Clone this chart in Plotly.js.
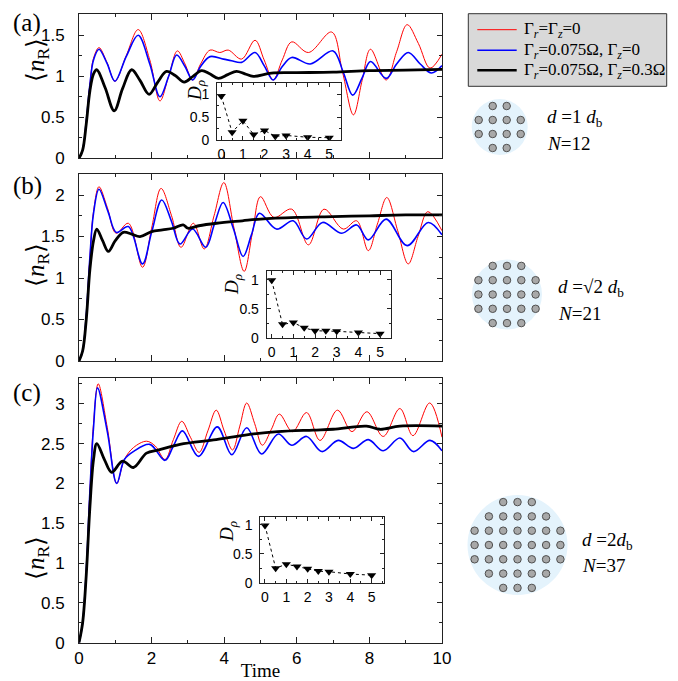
<!DOCTYPE html>
<html><head><meta charset="utf-8">
<script src="https://cdn.plot.ly/plotly-3.0.1.min.js"></script>
<style>html,body{margin:0;padding:0;background:#fff}#plot{width:678px;height:681px}</style>
</head><body><div id="plot"></div>
<script>
// ---------- DATA ----------
const seriesNames = ['Γ<sub><i>r</i></sub>=Γ<sub><i>z</i></sub>=0',
  'Γ<sub><i>r</i></sub>=0.075Ω, Γ<sub><i>z</i></sub>=0',
  'Γ<sub><i>r</i></sub>=0.075Ω, Γ<sub><i>z</i></sub>=0.3Ω'];

// panel (a)
const tA_red = [0,0.1,0.2,0.3,0.4,0.55,0.77,0.99,1.3,1.63,1.95,2.23,2.47,2.71,2.92,3.13,3.35,3.61,3.88,4.11,4.48,4.85,5.1,5.35,5.6,5.86,6.32,6.96,7.26,7.56,7.8,8.03,8.46,8.75,9.04,9.35,9.67,10];
const yA_red = [0,0.1,0.45,0.9,1.22,1.35,1.17,0.94,1.25,1.57,1.2,0.70,1.0,1.31,1.15,0.955,1.15,1.32,1.29,1.32,1.21,1.44,1.2,0.955,1.2,1.42,1.29,1.54,1.05,0.53,0.95,1.33,0.955,1.3,1.63,1.4,1.10,1.27];
const tA_blue = [0,0.1,0.2,0.3,0.4,0.55,0.77,0.99,1.3,1.63,1.95,2.23,2.47,2.69,2.92,3.13,3.35,3.61,3.98,4.2,4.48,4.85,5.1,5.35,5.6,5.86,6.37,7.0,7.28,7.54,7.8,8.03,8.46,8.75,9.07,9.4,9.71,10];
const yA_blue = [0,0.1,0.45,0.9,1.2,1.33,1.16,0.94,1.24,1.50,1.15,0.75,1.0,1.26,1.12,0.955,1.12,1.24,1.21,1.19,1.17,1.29,1.13,0.955,1.12,1.23,1.15,1.31,1.05,0.77,0.98,1.18,0.975,1.15,1.29,1.15,1.04,1.13];
const tA_black = [0,0.1,0.2,0.3,0.4,0.49,0.72,0.97,1.2,1.45,1.68,1.93,2.17,2.41,2.65,2.9,3.14,3.38,3.6,3.84,4.1,4.34,4.57,4.8,5.3,6.0,7.0,8.0,9.0,10];
const yA_black = [0,0.1,0.42,0.82,1.03,1.08,0.86,0.58,0.85,1.08,0.95,0.78,0.93,1.06,1.01,0.93,1.0,1.07,1.03,0.975,1.02,1.06,1.03,1.0,1.04,1.045,1.05,1.07,1.075,1.085];

// panel (b)
const tB_red = [0,0.1,0.2,0.3,0.4,0.55,0.78,1.02,1.36,1.75,2.0,2.26,2.55,2.81,3.15,3.45,3.72,3.99,4.27,4.55,4.78,5.0,5.37,5.86,6.32,6.75,7.28,7.65,7.97,8.22,8.48,8.78,9.07,9.34,9.61,10];
const yB_red = [0,0.12,0.55,1.25,1.8,2.10,1.85,1.54,1.66,1.13,1.6,2.08,1.75,1.37,1.66,1.35,1.75,2.15,1.6,1.08,1.55,1.98,1.73,1.83,1.40,1.83,1.59,1.69,1.33,1.65,1.97,1.57,1.17,1.5,1.80,1.57];
const tB_blue = [0,0.1,0.2,0.3,0.4,0.55,0.8,1.03,1.36,1.75,2.0,2.28,2.55,2.78,3.13,3.49,3.73,3.97,4.25,4.52,4.75,4.97,5.44,5.9,6.27,6.71,7.24,7.65,7.97,8.46,9.04,9.62,10];
const yB_blue = [0,0.12,0.55,1.25,1.78,2.07,1.8,1.55,1.62,1.17,1.55,1.94,1.68,1.41,1.59,1.37,1.65,1.91,1.6,1.26,1.52,1.78,1.59,1.69,1.47,1.67,1.54,1.64,1.46,1.71,1.39,1.67,1.52];
const tB_black = [0,0.1,0.2,0.3,0.4,0.49,0.65,0.81,1.0,1.22,1.45,1.68,2.0,2.3,2.6,2.87,3.0,3.3,3.79,4.5,5.0,6.0,7.0,8.0,9.0,10];
const yB_black = [0,0.12,0.5,1.1,1.45,1.59,1.45,1.32,1.45,1.55,1.53,1.50,1.56,1.58,1.60,1.64,1.60,1.63,1.66,1.69,1.71,1.73,1.74,1.75,1.76,1.76];

// panel (c)
const tC_red = [0,0.1,0.2,0.3,0.4,0.53,0.78,1.04,1.25,1.5,1.86,2.1,2.37,2.6,2.83,3.07,3.31,3.55,3.78,4.0,4.23,4.43,4.62,4.84,5.05,5.3,5.52,5.88,6.27,6.64,7.12,7.52,7.93,8.38,8.84,9.2,9.66,10];
const yC_red = [0,0.25,0.9,1.9,2.75,3.25,2.7,2.0,2.3,2.45,2.53,2.47,2.30,2.55,2.78,2.58,2.39,2.66,2.92,2.66,2.42,2.72,3.01,2.75,2.48,2.68,2.87,2.65,2.89,2.54,2.92,2.65,2.90,2.59,2.94,2.60,3.01,2.58];
const tC_blue = [0,0.1,0.2,0.3,0.4,0.51,0.78,1.04,1.25,1.5,1.95,2.37,2.6,2.85,3.29,3.81,4.21,4.62,5.03,5.49,5.86,6.27,6.69,7.14,7.56,7.97,8.38,8.84,9.21,9.67,10];
const yC_blue = [0,0.25,0.9,1.9,2.7,3.20,2.65,2.0,2.3,2.40,2.49,2.29,2.47,2.66,2.34,2.71,2.36,2.70,2.37,2.62,2.48,2.59,2.40,2.54,2.44,2.55,2.41,2.57,2.40,2.54,2.41];
const tC_black = [0,0.1,0.2,0.3,0.4,0.49,0.7,0.9,1.2,1.5,1.86,2.2,2.78,3.78,4.62,5.47,6.45,7.0,7.92,8.29,8.84,10];
const yC_black = [0,0.25,0.85,1.7,2.3,2.50,2.3,2.14,2.28,2.20,2.38,2.42,2.49,2.55,2.61,2.65,2.67,2.68,2.72,2.68,2.72,2.72];

// insets D_rho
const insetX = [0,0.5,1,1.5,2,2.5,3,4,5];
const D_a = [0.96,0.17,0.42,0.12,0.21,0.08,0.10,0.06,0.05];
const D_b = [0.99,0.23,0.26,0.17,0.12,0.12,0.11,0.09,0.07];
const D_c = [0.99,0.25,0.32,0.28,0.24,0.20,0.19,0.15,0.13];

// lattice rows of the vortex arrangements
const rowsA = [2,4,4,2];
const rowsB = [3,5,5,5,3];
const rowsC = [3,5,7,7,7,5,3];

const panelLabels = ['(a)','(b)','(c)'];
const yTitle = '⟨<i>n</i><sub>R</sub>⟩';
const insetTitle = '<i>D</i><sub><i>ρ</i></sub>';
const xTitle = 'Time';
const diagLabels = [
  ['<i>d</i> =1 <i>d</i><sub>b</sub>','<i>N</i>=12'],
  ['<i>d</i> =√2 <i>d</i><sub>b</sub>','<i>N</i>=21'],
  ['<i>d</i> =2<i>d</i><sub>b</sub>','<i>N</i>=37']];

// ---------- BUILD ----------
const W=678, H=681;
const px=p=>p/W, py=p=>1-p/H;
const SERIF='Liberation Serif, Times New Roman, serif';
const SANS='Liberation Sans, Arial, sans-serif';
const colors=['#ff0000','#0000ff','#000000'];
const widths=[1,1.6,2.8];

const traces=[];
const panels=[
  [[tA_red,yA_red],[tA_blue,yA_blue],[tA_black,yA_black]],
  [[tB_red,yB_red],[tB_blue,yB_blue],[tB_black,yB_black]],
  [[tC_red,yC_red],[tC_blue,yC_blue],[tC_black,yC_black]]];
panels.forEach((p,pi)=>{
  p.forEach((s,si)=>{
    traces.push({x:s[0],y:s[1],type:'scatter',mode:'lines',
      name:seriesNames[si],showlegend:false,
      xaxis:'x'+(pi===0?'':pi+1),yaxis:'y'+(pi===0?'':pi+1),
      line:{color:colors[si],width:widths[si],shape:'spline',smoothing:1},hoverinfo:'skip'});
  });
});
[D_a,D_b,D_c].forEach((d,i)=>{
  traces.push({x:insetX,y:d,type:'scatter',mode:'lines+markers',showlegend:false,
    xaxis:'x'+(i+4),yaxis:'y'+(i+4),
    line:{color:'#000',width:1,dash:'dot'},
    marker:{symbol:'triangle-down',size:8,color:'#000'},hoverinfo:'skip'});
});
function lattice(rows,cx,cy,step){
  const xs=[],ys=[];
  rows.forEach((n,i)=>{
    const yy=cy+(i-(rows.length-1)/2)*step;
    for(let j=0;j<n;j++){xs.push(cx+(j-(n-1)/2)*step);ys.push(yy);}
  });
  return [xs,ys];
}
const diag=[{rows:rowsA,cx:499.7,cy:127,step:14,r:28,tx:545,ty:[118,143]},
            {rows:rowsB,cx:507,cy:294.5,step:14.3,r:35,tx:556,ty:[288,313]},
            {rows:rowsC,cx:517.5,cy:545,step:14.3,r:50,tx:580,ty:[541,565]}];
const shapes=[],annotations=[];
diag.forEach((d,i)=>{
  const L=lattice(d.rows,d.cx,d.cy,d.step);
  traces.push({x:L[0],y:L[1],type:'scatter',mode:'markers',showlegend:false,xaxis:'x7',yaxis:'y7',
    marker:{size:7.5,color:'#a8a8a8',line:{color:'#505050',width:1}},hoverinfo:'skip'});
  shapes.push({type:'circle',xref:'x7',yref:'y7',x0:d.cx-d.r,x1:d.cx+d.r,y0:d.cy-d.r,y1:d.cy+d.r,
    fillcolor:'#e4f3fc',line:{width:0},layer:'below'});
  annotations.push({xref:'x7',yref:'y7',x:d.tx,y:d.ty[0],text:diagLabels[i][0],showarrow:false,xanchor:'left',yanchor:'middle',font:{family:SERIF,size:19,color:'#000'}});
  annotations.push({xref:'x7',yref:'y7',x:d.tx,y:d.ty[1],text:diagLabels[i][1],showarrow:false,xanchor:'left',yanchor:'middle',font:{family:SERIF,size:19,color:'#000'}});
});
// legend box (drawn by hand to match row spacing)
shapes.push({type:'rect',xref:'paper',yref:'paper',x0:px(468.3),x1:px(666.7),y0:py(86.3),y1:py(13.7),
  fillcolor:'#d9d9d9',line:{color:'#333',width:1},layer:'above'});
[29.7,50.3,70.3].forEach((yy,i)=>{
  shapes.push({type:'line',xref:'paper',yref:'paper',x0:px(477.3),x1:px(516.7),y0:py(yy),y1:py(yy),
    line:{color:colors[i],width:widths[i]===2.8?2.5:widths[i]},layer:'above'});
  annotations.push({xref:'paper',yref:'paper',x:px(521.5),y:py(yy+0.5),text:seriesNames[i],showarrow:false,
    xanchor:'left',yanchor:'middle',font:{family:SERIF,size:17,color:'#000'}});
});
// panel labels
[[27,23],[27,186],[27,393]].forEach((p,i)=>{
  annotations.push({xref:'paper',yref:'paper',x:px(p[0]),y:py(p[1]),text:panelLabels[i],showarrow:false,
    xanchor:'center',yanchor:'middle',font:{family:SERIF,size:25,color:'#000'}});
});
// main y titles
[[37,60],[37,265],[37,558]].forEach(p=>{
  annotations.push({xref:'paper',yref:'paper',x:px(p[0]),y:py(p[1]),text:yTitle,showarrow:false,
    textangle:-90,xanchor:'center',yanchor:'middle',font:{family:SERIF,size:25,color:'#000'}});
});
// inset y titles
[[196,91],[233,285],[228,532]].forEach(p=>{
  annotations.push({xref:'paper',yref:'paper',x:px(p[0]),y:py(p[1]),text:insetTitle,showarrow:false,
    textangle:-90,xanchor:'center',yanchor:'middle',font:{family:SERIF,size:19,color:'#000'}});
});

function mainX(showLabels){
  return {domain:[px(79),px(442)],range:[0,10],showline:true,linecolor:'#222',linewidth:1,mirror:'ticks',
    ticks:'inside',ticklen:6,tickcolor:'#222',tick0:0,dtick:2,showgrid:false,zeroline:false,
    showticklabels:showLabels,ticklabelstandoff:0,tickfont:{family:SANS,size:17,color:'#000'},
    minor:{ticks:'inside',ticklen:3,dtick:1,tickcolor:'#222',showgrid:false}};
}
function mainY(bot,top,maxv){
  return {domain:[py(bot),py(top)],range:[0,maxv],showline:true,linecolor:'#222',linewidth:1,mirror:'ticks',
    ticks:'inside',ticklen:5,tickcolor:'#222',tick0:0,dtick:0.5,showgrid:false,zeroline:false,
    ticklabelstandoff:10,tickfont:{family:SANS,size:17,color:'#000'},
    minor:{ticks:'inside',ticklen:3,dtick:0.25,tickcolor:'#222',showgrid:false}};
}
function insetX_(l,r,xr){
  return {domain:[px(l),px(r)],range:xr,showline:true,linecolor:'#222',linewidth:1,mirror:'ticks',
    ticks:'inside',ticklen:4,tickcolor:'#222',tick0:0,dtick:1,showgrid:false,zeroline:false,
    ticklabelstandoff:1,tickfont:{family:SANS,size:14,color:'#000'},
    minor:{ticks:'inside',ticklen:2,dtick:0.5,tickcolor:'#222',showgrid:false}};
}
function insetY_(b,t,yr){
  return {domain:[py(b),py(t)],range:yr,showline:true,linecolor:'#222',linewidth:1,mirror:'ticks',
    ticks:'inside',ticklen:4,tickcolor:'#222',tick0:0,dtick:0.5,showgrid:false,zeroline:false,
    ticklabelstandoff:4,tickfont:{family:SANS,size:14,color:'#000'},
    minor:{ticks:'inside',ticklen:2,dtick:0.25,tickcolor:'#222',showgrid:false}};
}
const xa=mainX(false), xb=mainX(false), xc=mainX(true);
xa.anchor='y'; xb.anchor='y2'; xc.anchor='y3';
xc.title={text:xTitle,font:{family:SERIF,size:19,color:'#000'},standoff:0};
const ya=mainY(158.3,14,1.76); ya.anchor='x';
const yb=mainY(361,174.3,2.25); yb.anchor='x2';
const yc=mainY(642.7,378.3,3.32); yc.anchor='x3';

const layout={
  width:W,height:H,margin:{l:0,r:0,t:0,b:0},paper_bgcolor:'#fff',plot_bgcolor:'rgba(0,0,0,0)',
  font:{family:SANS,color:'#000'},showlegend:false,
  xaxis:xa,yaxis:ya,xaxis2:xb,yaxis2:yb,xaxis3:xc,yaxis3:yc,
  xaxis4:Object.assign(insetX_(217,340.7,[-0.2,5.53]),{anchor:'y4'}),
  yaxis4:Object.assign(insetY_(140,83.3,[0,1.24]),{anchor:'x4'}),
  xaxis5:Object.assign(insetX_(266.7,390.7,[-0.23,5.49]),{anchor:'y5'}),
  yaxis5:Object.assign(insetY_(337.7,271,[0,1.15]),{anchor:'x5'}),
  xaxis6:Object.assign(insetX_(260.3,384,[-0.22,5.58]),{anchor:'y6'}),
  yaxis6:Object.assign(insetY_(582.7,516.7,[0,1.14]),{anchor:'x6'}),
  xaxis7:{domain:[0,1],range:[0,W],visible:false,anchor:'y7',fixedrange:true},
  yaxis7:{domain:[0,1],range:[H,0],visible:false,anchor:'x7',fixedrange:true},
  shapes:shapes,annotations:annotations
};
Plotly.newPlot('plot',traces,layout,{staticPlot:true,displayModeBar:false});
</script></body></html>
